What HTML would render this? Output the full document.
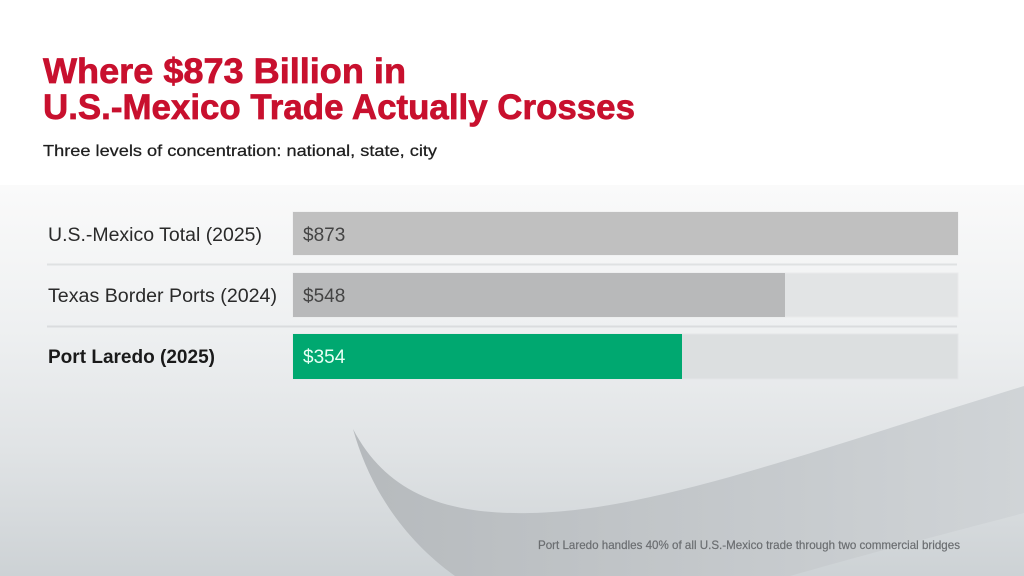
<!DOCTYPE html>
<html>
<head>
<meta charset="utf-8">
<style>
  html,body{margin:0;padding:0;background:#fff;}
  svg{display:block;}
</style>
</head>
<body>
<svg width="1024" height="576" viewBox="0 0 1024 576" xmlns="http://www.w3.org/2000/svg">
  <defs>
    <linearGradient id="bg" x1="0" y1="0" x2="0" y2="1" gradientUnits="objectBoundingBox">
      <stop offset="0" stop-color="#fafafa"/>
      <stop offset="0.37" stop-color="#eef0f1"/>
      <stop offset="0.68" stop-color="#e0e3e5"/>
      <stop offset="1" stop-color="#cdd2d5"/>
    </linearGradient>
    <linearGradient id="sw" x1="353" y1="0" x2="1024" y2="0" gradientUnits="userSpaceOnUse">
      <stop offset="0" stop-color="#b6babd"/>
      <stop offset="0.35" stop-color="#bfc3c6"/>
      <stop offset="1" stop-color="#d0d4d7"/>
    </linearGradient>
  </defs>

  <!-- background -->
  <rect x="0" y="0" width="1024" height="185" fill="#ffffff"/>
  <rect x="0" y="185" width="1024" height="391" fill="url(#bg)"/>

  <!-- swoosh -->
  <path d="M353,429 C385,490 440,515 530,513 C650,511 800,455 1024,386 L1024,513 C940,535 860,556 790,576 L455,576 C405,540 370,490 353,429 Z" fill="url(#sw)"/>

  <!-- title -->
  <g font-family="'Liberation Sans', sans-serif" font-weight="bold" fill="#c8102e" stroke="#c8102e" stroke-width="0.7" font-size="35">
    <text x="43" y="83" textLength="363" lengthAdjust="spacingAndGlyphs">Where $873 Billion in</text>
    <text x="43" y="119" textLength="592" lengthAdjust="spacingAndGlyphs">U.S.-Mexico Trade Actually Crosses</text>
  </g>
  <text x="43" y="156" font-family="'Liberation Sans', sans-serif" font-size="16" fill="#1e1e1e" stroke="#1e1e1e" stroke-width="0.25" textLength="394" lengthAdjust="spacingAndGlyphs">Three levels of concentration: national, state, city</text>

  <!-- separators -->
  <line x1="47" y1="264.5" x2="957" y2="264.5" stroke="#dfe1e2" stroke-width="2"/>
  <line x1="47" y1="326.5" x2="957" y2="326.5" stroke="#dadcde" stroke-width="2"/>

  <!-- tracks -->
  <rect x="293" y="212" width="665" height="43" fill="#e6e7e8" stroke="#ededee" stroke-width="1"/>
  <rect x="293" y="273" width="665" height="44" fill="#e2e4e5" stroke="#eaeaeb" stroke-width="1"/>
  <rect x="293" y="334" width="665" height="45" fill="#dcdfe0" stroke="#e4e6e7" stroke-width="1"/>

  <!-- bars -->
  <rect x="293" y="212" width="665" height="43" fill="#c0c0c0"/>
  <rect x="293" y="273" width="492" height="44" fill="#b8b9ba"/>
  <rect x="293" y="334" width="389" height="45" fill="#00a870"/>

  <!-- labels -->
  <g font-family="'Liberation Sans', sans-serif" font-size="19" fill="#2a2a2a">
    <text x="48" y="241" textLength="214" lengthAdjust="spacingAndGlyphs">U.S.-Mexico Total (2025)</text>
    <text x="48" y="302" textLength="229" lengthAdjust="spacingAndGlyphs">Texas Border Ports (2024)</text>
    <text x="48" y="363" font-weight="bold" fill="#1a1a1a" textLength="167" lengthAdjust="spacingAndGlyphs">Port Laredo (2025)</text>
  </g>

  <!-- values -->
  <g font-family="'Liberation Sans', sans-serif" font-size="19">
    <text x="303" y="241" fill="#444444">$873</text>
    <text x="303" y="302" fill="#444444">$548</text>
    <text x="303" y="363" fill="#e8fff4">$354</text>
  </g>

  <!-- footnote -->
  <text x="538" y="549" font-family="'Liberation Sans', sans-serif" font-size="12" fill="#6b6e71" stroke="#6b6e71" stroke-width="0.2" textLength="422" lengthAdjust="spacingAndGlyphs">Port Laredo handles 40% of all U.S.-Mexico trade through two commercial bridges</text>
</svg>
</body>
</html>
